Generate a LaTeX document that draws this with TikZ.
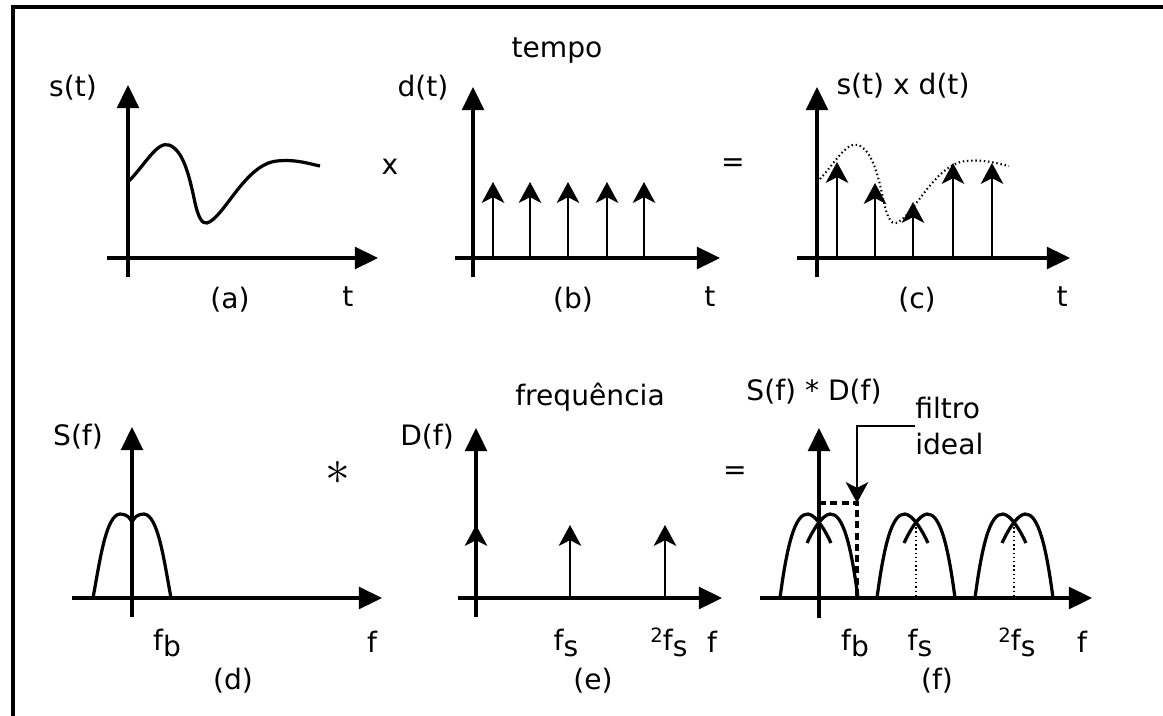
\documentclass[tikz,border=0pt]{standalone}
\usepackage{fontspec}
\setmainfont{DejaVu Sans}
\usetikzlibrary{arrows.meta}

\newcommand{\lo}[1]{\raisebox{-0.45ex}{#1}}
\newcommand{\hi}[1]{\raisebox{0.5ex}{\fontsize{14}{14}\selectfont #1}}

\begin{document}
\begin{tikzpicture}[
    x=0.025cm, y=-0.025cm,
    lbl/.style={font=\fontsize{20}{25}\selectfont, inner sep=0pt},
    axis/.style={-{Triangle[length=0.58cm,width=0.55cm]}, line width=2.2pt},
    pulse/.style={-{Stealth[length=0.52cm,width=0.56cm,inset=0.14cm]}, line width=2pt},
    sig/.style={line width=2.3pt, line join=round},
    dots/.style={line width=1.5pt, dash pattern=on 1pt off 2pt},
    filter/.style={line width=2.2pt, dash pattern=on 5pt off 3pt},
    frame/.style={line width=2.4pt}
]
    \useasboundingbox (0,0) rectangle (1163,716);

    % page frame (top and left only)
    \draw[frame] (13,716) -- (13,7) -- (1163,7);

    % axes of the six panels
    \foreach \p/\vx/\hy/\hl/\hr/\vb/\vt in {a/128/258/107/378/277/85, b/473/258/455/720/277/87,
        c/817/258/797/1070/277/87, d/132/598/72/382/617/427, e/476/598/458/722/617/428,
        f/819/598/760/1092/618/428} {
        \coordinate (\p-l) at (\hl,\hy);
        \coordinate (\p-r) at (\hr,\hy);
        \coordinate (\p-b) at (\vx,\vb);
        \coordinate (\p-t) at (\vx,\vt);
        \draw[axis] (\p-l) -- (\p-r);
        \draw[axis] (\p-b) -- (\p-t);
    }

    % time signal s(t) and its dotted copy in (c)
    \foreach \dx/\st in {0/sig, 689/dots}
        \draw[\st, shift={(\dx,0)}] (128,182) .. controls (145,165) and (157,141) .. (169,145)
            .. controls (183,150) and (189,175) .. (194,198)
            .. controls (198,218) and (202,224) .. (207,223)
            .. controls (224,218) and (245,164) .. (277,161)
            .. controls (296,159) and (310,164) .. (320,166);

    % sampling train d(t)
    \foreach \x in {493,530,568,607,644}
        \draw[pulse] (\x,258) -- (\x,182);

    % samples s(t) x d(t)
    \foreach \x/\h in {837/162, 875/183, 913/202, 953/163, 992/163}
        \draw[pulse] (\x,258) -- (\x,\h);

    % spectrum S(f)
    \draw[sig] (93,598) .. controls (100,560) and (106,515) .. (120,514)
        .. controls (127,514) and (130,518) .. (132,522);
    \draw[sig] (171,598) .. controls (164,560) and (158,515) .. (144,514)
        .. controls (137,514) and (134,518) .. (132,522);

    % spectrum D(f)
    \foreach \x in {476,570,665}
        \draw[pulse] (\x,598) -- (\x,525);

    % replicated spectra S(f) * D(f)
    \foreach \c in {819,916,1014} {
        \draw[sig] ({\c-39},598) .. controls ({\c-32},545) and ({\c-24},513) .. ({\c-11},514)
            .. controls ({\c-3},515) and ({\c+6},530) .. ({\c+12},543);
        \draw[sig] ({\c+39},598) .. controls ({\c+32},545) and ({\c+24},513) .. ({\c+11},514)
            .. controls ({\c+3},515) and ({\c-6},530) .. ({\c-12},543);
    }
    \foreach \c in {916,1014}
        \draw[dots] (\c,523) -- (\c,598);

    % ideal filter
    \coordinate (fbtop) at (857,503);
    \draw[filter] (819,503) -- (fbtop) -- (857,598);
    \node[lbl, align=left, anchor=west] (filt) at (915,426) {filtro\\ideal};
    \draw[pulse, line width=1.5pt] (filt.west) -| (fbtop);

    % labels, time row
    \node[lbl, anchor=base] (tempo) at (557,58) {tempo};
    \node[lbl, anchor=base] (sa) at (73,97) {s(t)};
    \node[lbl, anchor=base] (dt) at (423,97) {d(t)};
    \node[lbl, anchor=base] (sd) at (903,94) {s(t) x d(t)};
    \node[lbl] (times) at (390,167) {x};
    \node[lbl] (eq1) at (733,165) {=};
    \node[lbl, anchor=base] (la) at (230,308) {(a)};
    \node[lbl, anchor=base] (ta) at (348,306) {t};
    \node[lbl, anchor=base] (lb) at (573,308) {(b)};
    \node[lbl, anchor=base] (tb) at (710,306) {t};
    \node[lbl, anchor=base] (lc) at (917,308) {(c)};
    \node[lbl, anchor=base] (tc) at (1062,306) {t};

    % labels, frequency row
    \node[lbl, anchor=base] (freq) at (590,405) {frequência};
    \node[lbl, anchor=base] (Sf) at (78,445) {S(f)};
    \node[lbl, anchor=base] (Df) at (427,445) {D(f)};
    \node[lbl, anchor=base] (SDf) at (814,400) {S(f) * D(f)};
    \node[lbl, scale=1.7] (conv) at (338,473) {$\ast$};
    \node[lbl] (eq2) at (735,473) {=};
    \node[lbl, anchor=base] (fbd) at (167,650) {f\lo{b}};
    \node[lbl, anchor=base] (fd) at (372,652) {f};
    \node[lbl, anchor=base] (ld) at (233,689) {(d)};
    \node[lbl, anchor=base] (fse) at (566,650) {f\lo{s}};
    \node[lbl, anchor=base] (fs2e) at (669,650) {\hi{2}f\lo{s}};
    \node[lbl, anchor=base] (fe) at (712,652) {f};
    \node[lbl, anchor=base] (le) at (593,689) {(e)};
    \node[lbl, anchor=base] (fbf) at (855,650) {f\lo{b}};
    \node[lbl, anchor=base] (fsf) at (920,650) {f\lo{s}};
    \node[lbl, anchor=base] (fs2f) at (1017,650) {\hi{2}f\lo{s}};
    \node[lbl, anchor=base] (ff) at (1082,652) {f};
    \node[lbl, anchor=base] (lf) at (937,689) {(f)};
\end{tikzpicture}
\end{document}
